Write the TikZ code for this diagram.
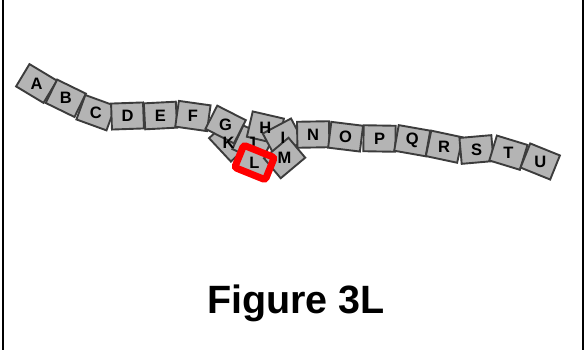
\documentclass[tikz,border=0pt]{standalone}
\usepackage{fontspec}
\setmainfont{Liberation Sans}
\usepackage{tikz}
\usetikzlibrary{positioning}
\definecolor{tilefill}{RGB}{180, 180, 180}
\definecolor{tileedge}{RGB}{60,  60,  60}
\definecolor{markred} {RGB}{255,  0,   0}

\tikzset{
  tile/.style={draw=tileedge, fill=tilefill, line width=1.9pt, rectangle,
    minimum width=32pt, minimum height=26pt, inner sep=0pt},
  letter/.style={font=\fontsize{16.5}{16.5}\selectfont\bfseries, inner sep=0pt},
  highlight/.style={draw=markred, line width=7pt, rectangle, rounded corners=2.5pt,
    minimum width=33pt, minimum height=24pt, inner sep=0pt}
}

\begin{document}
\begin{tikzpicture}[x=1pt, y=1pt]
  % Page frame (only the side rules)
  \useasboundingbox (0,0) rectangle (588,-350);
  \draw[line width=2pt] (3,0) -- (3,-350);
  \draw[line width=2pt] (583,0) -- (583,-350);

  % Left part of the chain
  \node[tile, rotate=-31] (A) at (36.5,-83.5) {};
  \node[tile, rotate=-26] (B) at (65.8,-98.3) {};
  \node[tile, rotate=-20] (C) at (95.9,-112.7) {};
  \node[tile, rotate=2]   (D) at (127.5,-116) {};
  \node[tile, rotate=3]   (E) at (160.5,-115.5) {};
  \node[tile, rotate=-8]  (F) at (192.9,-116) {};

  % Crumpled middle (drawn back to front)
  \node[tile, rotate=-47] (K) at (229.5,-141) {};
  \node[tile, rotate=-25] (J) at (252.3,-144) {};
  \node[tile, rotate=-22] (L) at (254.5,-162.5) {};
  \node[tile, rotate=-27] (G) at (225.6,-124.5) {};
  \node[tile, rotate=-13] (H) at (265.4,-127.7) {};
  \node[tile, rotate=28]  (I) at (283,-137.5) {};
  \node[tile, rotate=40]  (M) at (284.6,-158) {};

  % Right part of the chain
  \node[tile, rotate=1]   (N) at (313.2,-134.5) {};
  \node[tile, rotate=-7]  (O) at (345.6,-136.7) {};
  \node[tile, rotate=-1]  (P) at (379.5,-138.5) {};
  \node[tile, rotate=-10] (Q) at (412.2,-140.7) {};
  \node[tile, rotate=-12] (R) at (444.2,-146.7) {};
  \node[tile, rotate=5]   (S) at (476.5,-149.5) {};
  \node[tile, rotate=-17] (T) at (508.4,-152.7) {};
  \node[tile, rotate=-22] (U) at (540.2,-161.5) {};

  % Letters on top of the tiles
  \node[letter] at (A) {A}; \node[letter] at (B) {B}; \node[letter] at (C) {C};
  \node[letter] at (D) {D}; \node[letter] at (E) {E}; \node[letter] at (F) {F};
  \node[letter] at (G) {G}; \node[letter] at (H) {H}; \node[letter] at (I) {I};
  \node[letter] at (251.5,-143) {J}; \node[letter] at (228.5,-143.3) {K};
  \node[letter] at (L) {L}; \node[letter] at (M) {M};
  \node[letter] at (N) {N}; \node[letter] at (O) {O}; \node[letter] at (P) {P};
  \node[letter] at (Q) {Q}; \node[letter] at (R) {R}; \node[letter] at (S) {S};
  \node[letter] at (T) {T}; \node[letter] at (U) {U};

  % Red mark round tile L
  \node[highlight, rotate=-22] (Lmark) at (L) {};

  % Caption
  \node[font=\fontsize{39.5}{39.5}\selectfont\bfseries, anchor=base] (caption) at (296,-313.5) {Figure 3L};
\end{tikzpicture}
\end{document}
